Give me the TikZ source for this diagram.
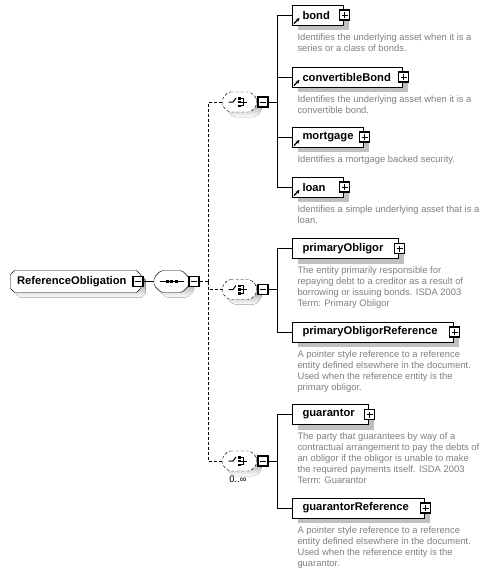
\documentclass[tikz,border=0pt]{standalone}
\usepackage{fontspec}
\setmainfont{Liberation Sans}
\usetikzlibrary{shadows,backgrounds,arrows.meta,calc}
\definecolor{desc}{RGB}{128,128,128}
\definecolor{shade}{RGB}{192,192,192}
% octagon outline around a node: #1 node, #2 cut (pt)
\newcommand{\octpath}[2]{([xshift=#2]#1.north west) -- ([xshift=-#2]#1.north east) -- ([yshift=-#2]#1.north east) -- ([yshift=#2]#1.south east) -- ([xshift=-#2]#1.south east) -- ([xshift=#2]#1.south west) -- ([yshift=#2]#1.south west) -- ([yshift=-#2]#1.north west) -- cycle}
\tikzset{
  every picture/.style={line width=1pt},
  elem/.style={draw, fill=white, rectangle, minimum height=20pt, inner xsep=10pt, inner ysep=0pt,
    align=left, anchor=west, font=\fontsize{11.2}{13}\selectfont\bfseries,
    drop shadow={shadow xshift=5pt, shadow yshift=-5pt, fill=shade, opacity=1}},
  octo/.style={rectangle, inner ysep=0pt, align=left, font=\fontsize{11.2}{13}\selectfont\bfseries},
  dtext/.style={anchor=north west, inner sep=0pt, align=left, text=desc, font=\fontsize{9.4}{11}\selectfont},
  pmbox/.style={draw, fill=white, minimum size=10pt, inner sep=0pt, line width=1.2pt},
  plusbox/.style={pmbox, path picture={
      \draw[line width=1pt] ([xshift=2pt]path picture bounding box.west) -- ([xshift=-2pt]path picture bounding box.east);
      \draw[line width=1pt] ([yshift=-2pt]path picture bounding box.north) -- ([yshift=2pt]path picture bounding box.south);}},
  minusbox/.style={pmbox, path picture={
      \draw[line width=1pt] ([xshift=2pt]path picture bounding box.west) -- ([xshift=-2pt]path picture bounding box.east);}},
  refarrow/.style={-{Stealth[length=3.5pt,width=3.5pt]}, line width=1.2pt},
  dashline/.style={dash pattern=on 3pt off 2pt},
  chbox/.style={rectangle, minimum width=33pt, minimum height=19pt, inner sep=0pt},
}
\newcommand{\refmark}[1]{\draw[refarrow] ([xshift=2pt,yshift=2pt]#1.south west) -- ([xshift=7.5pt,yshift=7.5pt]#1.south west);}
\newcommand{\choicesym}[1]{%
  \draw[line width=1pt] ([xshift=-11pt]#1.center) -- ([xshift=-6.5pt]#1.center) -- ([xshift=-3.5pt,yshift=4pt]#1.center);
  \fill ([xshift=-1.5pt,yshift=2.5pt]#1.center) rectangle ([xshift=1pt,yshift=5pt]#1.center);
  \fill ([xshift=-1.5pt,yshift=-1.2pt]#1.center) rectangle ([xshift=1pt,yshift=1.3pt]#1.center);
  \fill ([xshift=-1.5pt,yshift=-5pt]#1.center) rectangle ([xshift=1pt,yshift=-2.5pt]#1.center);
  \draw[line width=1pt] ([xshift=1pt,yshift=3.8pt]#1.center) -- ([xshift=3.5pt,yshift=3.8pt]#1.center) -- ([xshift=3.5pt,yshift=-3.8pt]#1.center) -- ([xshift=1pt,yshift=-3.8pt]#1.center);
  \draw[line width=1pt] ([xshift=1pt]#1.center) -- ([xshift=7.5pt]#1.center);}
\begin{document}
\begin{tikzpicture}[x=1pt,y=-1pt]
\useasboundingbox (0,0) rectangle (488,574);
\begin{scope}[on background layer]
  \fill[white] (0,0) rectangle (488,574);
\end{scope}

% root element
\node[octo, minimum width=129pt, minimum height=21pt, inner xsep=6pt, text width=117pt] (ro) at (75.5,281.5) {ReferenceObligation};
\node[minusbox] (rom) at (138,281.5) {};

% sequence compositor
\node[chbox, minimum width=34pt, minimum height=21pt] (seq) at (171.5,281.5) {};
\node[minusbox] (seqm) at (194,281.5) {};
\draw ([xshift=-12pt]seq.center) -- ([xshift=12pt]seq.center);
\fill ([xshift=-6pt,yshift=-1.6pt]seq.center) rectangle ([xshift=-3pt,yshift=1.6pt]seq.center);
\fill ([xshift=-1.5pt,yshift=-1.6pt]seq.center) rectangle ([xshift=1.5pt,yshift=1.6pt]seq.center);
\fill ([xshift=3pt,yshift=-1.6pt]seq.center) rectangle ([xshift=6pt,yshift=1.6pt]seq.center);

% choice compositors
\node[chbox] (c1) at (239.5,102) {};
\node[minusbox] (c1m) at (263,102) {};
\node[chbox] (c2) at (239.5,289.5) {};
\node[minusbox] (c2m) at (263,289.5) {};
\node[chbox] (c3) at (239.5,461) {};
\node[minusbox] (c3m) at (263,461) {};
\node[font=\fontsize{9.4}{11}\selectfont, inner sep=0pt] (c3occ) at (238,479) {0..∞};
\choicesym{c1}
\choicesym{c2}
\choicesym{c3}

\begin{scope}[on background layer]
  \fill[shade, transform canvas={shift={(5pt,-5pt)}}] \octpath{ro}{4pt};
  \filldraw[fill=white] \octpath{ro}{4pt};
  \fill[shade, rounded corners=2pt, transform canvas={shift={(5pt,-5pt)}}] \octpath{seq}{7pt};
  \filldraw[fill=white, rounded corners=2pt] \octpath{seq}{7pt};
  \foreach \c in {c1,c2,c3}{
    \fill[shade, rounded corners=2pt, transform canvas={shift={(5pt,-5pt)}}] \octpath{\c}{6pt};
    \filldraw[fill=white, dashline, rounded corners=2pt] \octpath{\c}{6pt};
  }
\end{scope}

% group 1 elements
\node[elem, text width=31pt] (bond) at (292,15) {bond};
\node[elem, text width=90pt] (cbond) at (292,77) {convertibleBond};
\node[elem, text width=51pt] (mort) at (292,137) {mortgage};
\node[elem, text width=31pt] (loan) at (292,187) {loan};
% group 2
\node[elem, text width=86pt] (po) at (292,248.5) {primaryObligor};
\node[elem, text width=141pt] (por) at (292,332) {primaryObligorReference};
% group 3
\node[elem, text width=56pt] (gu) at (292,414.5) {guarantor};
\node[elem, text width=112pt] (gur) at (292,508) {guarantorReference};

\foreach \n in {bond,cbond,mort,loan,po,por,gu,gur}{
  \node[plusbox] (\n p) at ([xshift=0.5pt]\n.east) {};
}
\refmark{bond}
\refmark{cbond}
\refmark{mort}
\refmark{loan}

% descriptions
\node[dtext] (bondd) at (297,33) {Identifies the underlying asset when it is a\\series or a class of bonds.};
\node[dtext] (cbondd) at (297,95) {Identifies the underlying asset when it is a\\convertible bond.};
\node[dtext] (mortd) at (297,155) {Identifies a mortgage backed security.};
\node[dtext] (loand) at (297,205) {Identifies a simple underlying asset that is a\\loan.};
\node[dtext] (pod) at (297,266.5) {The entity primarily responsible for\\repaying debt to a creditor as a result of\\borrowing or issuing bonds. ISDA 2003\\Term: Primary Obligor};
\node[dtext] (pord) at (297,350) {A pointer style reference to a reference\\entity defined elsewhere in the document.\\Used when the reference entity is the\\primary obligor.};
\node[dtext] (gud) at (297,432.5) {The party that guarantees by way of a\\contractual arrangement to pay the debts of\\an obligor if the obligor is unable to make\\the required payments itself. ISDA 2003\\Term: Guarantor};
\node[dtext] (gurd) at (297,526) {A pointer style reference to a reference\\entity defined elsewhere in the document.\\Used when the reference entity is the\\guarantor.};

% connectors
\draw (rom.east) -- (seq.west);
\coordinate (j0) at (208,281.5);
\draw[dashline] (seqm.east) -- (j0);
\draw[dashline] (j0) |- (c1.west);
\draw[dashline] (j0) |- (c2.west);
\draw[dashline] (j0) |- (c3.west);

\coordinate (v1) at (277,102);
\draw (c1m.east) -- (v1);
\foreach \n in {bond,cbond,mort,loan}{ \draw (v1) |- (\n.west); }
\coordinate (v2) at (277,289.5);
\draw (c2m.east) -- (v2);
\foreach \n in {po,por}{ \draw (v2) |- (\n.west); }
\coordinate (v3) at (277,461);
\draw (c3m.east) -- (v3);
\foreach \n in {gu,gur}{ \draw (v3) |- (\n.west); }
\end{tikzpicture}
\end{document}
